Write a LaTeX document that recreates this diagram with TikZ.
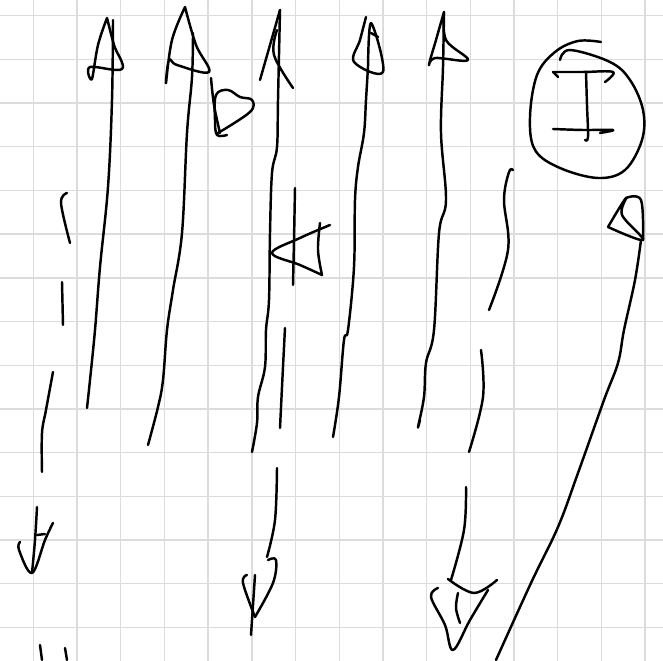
\documentclass[tikz,border=0pt]{standalone}
\usetikzlibrary{calc}
\definecolor{gridgrey}{HTML}{DCDCDC}
\tikzset{
  every picture/.style={line join=round, line cap=round},
  gridline/.style={draw=gridgrey, line width=0.8pt},
  pen/.style={draw=black, line width=1.4pt},
  sketch/.style={pen, smooth, tension=0.6},
}

\begin{document}
\begin{tikzpicture}[x=0.02cm, y=-0.02cm]
  \useasboundingbox (0,0) rectangle (663,661);
  % squared paper
  \foreach \k in {0,...,14} {
    \draw[gridline] ({33.3+43.7*\k},0) -- ({33.3+43.7*\k},661);
    \draw[gridline] (0,{15.7+43.7*\k}) -- (663,{15.7+43.7*\k});
  }
  % first up arrow
  \draw[sketch] plot coordinates {(113,20) (112,100) (108,187) (100,267) (95,330) (90,380) (87,408)};
  \draw[sketch] plot coordinates {(107,18) (98,45) (92,79) (90,67) (122,69) (114,45) (107,18)};
  % second up arrow and its small flag
  \draw[sketch] plot coordinates {(193,33) (192,77) (187,133) (182,233) (173,290) (167,330) (163,380) (158,407) (148,445)};
  \draw[sketch] plot coordinates {(185,7) (172,40) (166,83) (169,60) (177,65) (209,72) (196,45) (185,7)};
  \draw[sketch] plot coordinates {(211,78) (214,105) (220,133)};
  \draw[sketch] plot coordinates {(218,133) (250,112) (252,100) (240,97) (228,90) (216,95) (215,120) (217,135) (227,135)};
  % third up arrow with the left flag
  \draw[sketch] plot coordinates {(280,10) (278,100) (277,147) (272,173) (270,233) (269,300) (266,330) (265,367) (258,397) (257,423) (252,452)};
  \draw[sketch] plot coordinates {(280,10) (270,45) (260,80)};
  \draw[sketch] plot coordinates {(277,30) (274,55) (293,88)};
  \draw[sketch] plot coordinates {(295,188) (294,240) (293,285)};
  \draw[sketch] plot coordinates {(330,225) (300,238) (272,253) (300,265) (322,275)};
  \draw[sketch] plot coordinates {(320,223) (318,250) (322,275)};
  % short stroke beside it, then the down arrow below
  \draw[sketch] plot coordinates {(285,328) (283,367) (280,428)};
  \draw[sketch] plot coordinates {(277,468) (275,520) (267,557)};
  \draw[sketch] plot coordinates {(268,560) (276,560) (273,583) (255,617)};
  \draw[sketch] plot coordinates {(247,575) (243,583) (255,617)};
  \draw[sketch] plot coordinates {(255,575) (253,605) (251,635)};
  % dashed line on the left ending in a down arrow
  \draw[sketch] plot coordinates {(67,193) (61,203) (70,243)};
  \draw[sketch] plot coordinates {(62,282) (63,325)};
  \draw[sketch] plot coordinates {(53,372) (46,410) (42,433) (42,472)};
  \draw[sketch] plot coordinates {(37,507) (35,540) (32,573)};
  \draw[sketch] plot coordinates {(20,542) (19,550) (32,573) (45,540) (53,523)};
  \draw[sketch] plot coordinates {(37,535) (45,534)};
  \draw[sketch] plot coordinates {(40,645) (42,660)};
  \draw[sketch] plot coordinates {(65,648) (67,660)};
  % fourth up arrow
  \draw[sketch] plot coordinates {(368,67) (366,100) (364,133) (358,167) (355,200) (354,267) (348,330) (344,340) (339,397) (333,437)};
  \draw[sketch] plot coordinates {(366,17) (360,40) (354,62) (383,72) (371,23) (368,67)};
  \draw[sketch] plot coordinates {(371,33) (378,37)};
  % fifth up arrow
  \draw[sketch] plot coordinates {(444,12) (443,67) (441,133) (446,200) (439,233) (434,330) (426,363) (424,397) (418,427) (420,420)};
  \draw[sketch] plot coordinates {(444,12) (436,40) (429,65) (435,58) (468,60) (446,40) (444,12)};
  % wavy line and last down arrow
  \draw[sketch] plot coordinates {(513,170) (509,172) (504,200) (508,250) (489,310)};
  \draw[sketch] plot coordinates {(481,350) (483,397) (469,452)};
  \draw[sketch] plot coordinates {(466,487) (464,530) (451,580)};
  \draw[sketch] plot coordinates {(448,579) (474,593) (497,580)};
  \draw[sketch] plot coordinates {(438,588) (431,597) (445,625) (453,650) (470,620) (488,590)};
  \draw[sketch] plot coordinates {(458,593) (456,608) (460,623)};
  % circled I
  \draw[sketch] plot coordinates {(601,42) (578,41) (555,52) (537,75) (530,117) (535,150) (560,168) (598,178) (625,170) (642,140) (643,110) (630,80) (610,62) (570,50) (560,60)};
  \draw[sketch] plot coordinates {(553,72) (583,72) (613,72) (605,82)};
  \draw[sketch] plot coordinates {(558,77) (553,72)};
  \draw[sketch] plot coordinates {(586,72) (587,105) (588,137) (585,140)};
  \draw[sketch] plot coordinates {(553,129) (583,130) (613,130) (600,133)};
  % long curve with the flag on top right
  \draw[sketch] plot coordinates {(641,240) (635,280) (624,330) (618,363) (604,400) (578,473) (558,527) (531,583) (496,660)};
  \draw[sketch] plot coordinates {(608,227) (626,198) (622,215) (643,240) (608,227)};
  \draw[sketch] plot coordinates {(626,198) (641,200) (643,240)};
\end{tikzpicture}
\end{document}
